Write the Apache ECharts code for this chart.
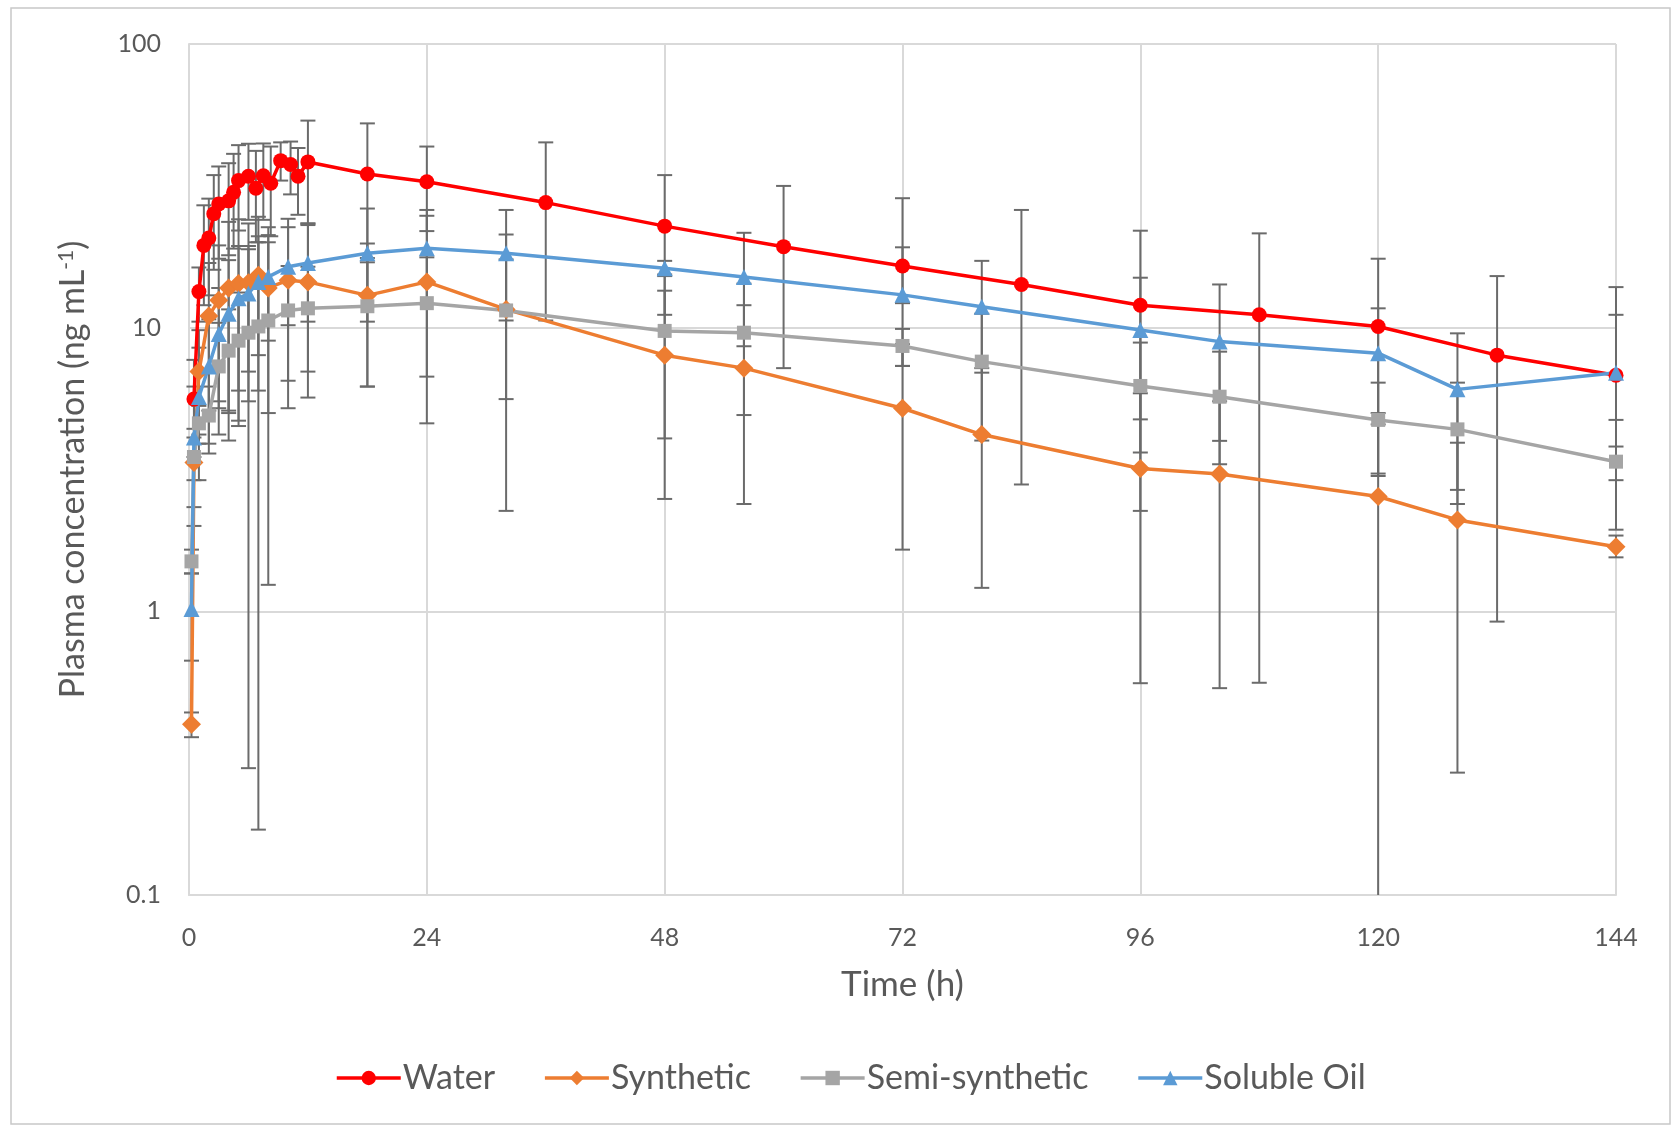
<!DOCTYPE html>
<html>
<head>
<meta charset="utf-8">
<script src="https://cdn.jsdelivr.net/npm/echarts@6/dist/echarts.min.js"></script>
<style>
  html, body { margin: 0; padding: 0; background: #fff; }
  #chart { width: 1673px; height: 1128px; }
</style>
</head>
<body>
<div id="chart"></div>
<script>
// time points (h)
var waterTime = [0.5, 1, 1.5, 2, 2.5, 3, 4, 4.5, 5, 6, 6.75, 7.5, 8.25, 9.25, 10.25, 11, 12, 18, 24, 36, 48, 60, 72, 84, 96, 108, 120, 132, 144];
var otherTime = [0.25, 0.5, 1, 2, 3, 4, 5, 6, 7, 8, 10, 12, 18, 24, 32, 48, 56, 72, 80, 96, 104, 120, 128, 144];

// mean concentration (ng/mL) and error bar ends
var waterMean = [5.6, 13.4, 19.5, 20.7, 25.2, 27.3, 28.0, 30.0, 33.0, 34.2, 31.0, 34.3, 32.3, 38.8, 37.6, 34.2, 38.4, 34.8, 32.7, 27.6, 22.8, 19.3, 16.5, 14.2, 12.0, 11.1, 10.1, 8.0, 6.8];
var waterLow  = [3.5, 10.5, 12, 13, 16, 17.5, 18, 19, 22, 24, 20, 24, 21, 33, 29.5, 25, 23, 17, 21.9, 10.6, 11.1, 7.2, 7.33, 2.8, 2.26, 0.56, 3.0, 0.92, 2.9];
var waterHigh = [7.7, 16.3, 27, 28.5, 34.5, 37, 38, 41, 44, 44.5, 42, 44.6, 43.5, 45, 45.3, 43, 53.7, 52.5, 43.5, 45, 34.5, 31.6, 28.6, 26.0, 21.97, 21.5, 17.5, 15.2, 11.1];

var synthMean = [0.40, 3.35, 7.0, 11.0, 12.5, 13.8, 14.3, 14.4, 15.3, 13.8, 14.7, 14.5, 13.0, 14.5, 11.6, 8.0, 7.2, 5.2, 4.2, 3.19, 3.05, 2.54, 2.10, 1.69];
var synthLow  = [0.36, 2.33, 4.2, 5.1, 5.5, 4.0, 4.5, 5.5, 6.0, 5.0, 5.2, 5.67, 6.2, 4.6, 2.26, 2.49, 2.39, 1.65, 1.21, 0.558, 0.536, 0, 0.27, 1.55];
var synthHigh = [0.44, 4.4, 9.8, 16.9, 19.5, 23.6, 24.1, 23.3, 24.6, 22.6, 24.2, 23.3, 19.8, 24.8, 21.3, 13.5, 12.0, 8.75, 7.2, 5.87, 5.5, 5.0, 3.93, 1.85];

var semiMean = [1.5, 3.5, 4.6, 4.9, 7.3, 8.3, 9.0, 9.6, 10.1, 10.6, 11.5, 11.7, 11.9, 12.2, 11.5, 9.74, 9.6, 8.62, 7.59, 6.23, 5.71, 4.73, 4.38, 3.37];
var semiLow  = [1.36, 2.9, 3.9, 3.6, 4.2, 5.0, 4.7, 0.28, 0.17, 1.24, 6.5, 7.0, 6.2, 6.72, 5.6, 4.07, 4.92, 7.33, 4.0, 3.63, 3.30, 3.06, 2.39, 1.94];
var semiHigh = [1.65, 4.1, 5.3, 6.2, 10.4, 11.6, 13.3, 18.9, 20.0, 20.0, 16.5, 16.4, 17.6, 17.7, 17.4, 15.4, 14.3, 9.9, 11.2, 8.86, 8.23, 6.4, 6.4, 4.73];

var oilMean = [1.02, 4.1, 5.7, 7.3, 9.5, 11.2, 12.7, 13.2, 14.5, 15.1, 16.4, 16.9, 18.3, 19.05, 18.3, 16.2, 15.1, 13.05, 11.86, 9.82, 8.93, 8.13, 6.06, 6.93];
var oilLow  = [0.67, 2.0, 2.9, 3.9, 5.2, 5.1, 6.0, 7.0, 8.0, 9.0, 10.2, 10.5, 10.5, 12.1, 10.6, 15.2, 8.6, 12.2, 6.94, 4.75, 3.99, 4.56, 2.68, 3.81];
var oilHigh = [1.36, 6.2, 8.5, 10.7, 13.8, 17.3, 19.4, 19.4, 21.0, 21.2, 22.6, 23.3, 26.3, 26.0, 26.0, 17.2, 21.6, 19.2, 17.2, 15.0, 14.2, 11.7, 9.55, 13.9];

var seriesNames = ['Water', 'Synthetic', 'Semi-synthetic', 'Soluble Oil'];
var xTicks = [0, 24, 48, 72, 96, 120, 144];
var yMin = 0.1, yMax = 100;

var FONT = 'Lato, "Open Sans", sans-serif';
var TXT = '#595959';

function pairs(t, v) {
  return t.map(function (x, i) { return [x, v[i]]; });
}
function bars(t, lo, hi) {
  return t.map(function (x, i) { return [x, lo[i], hi[i]]; });
}

// error bar: vertical line plus caps, clipped at the axis bottom
function renderErr(params, api) {
  var x = api.value(0), lo = api.value(1), hi = api.value(2);
  var clipped = lo < yMin;
  var top = api.coord([x, hi]);
  var bot = api.coord([x, clipped ? yMin : lo]);
  var half = 7.5;
  var st = { stroke: '#6b6b6b', lineWidth: 2 };
  var kids = [
    { type: 'line', shape: { x1: top[0], y1: top[1], x2: bot[0], y2: bot[1] }, style: st },
    { type: 'line', shape: { x1: top[0] - half, y1: top[1], x2: top[0] + half, y2: top[1] }, style: st }
  ];
  if (!clipped) {
    kids.push({ type: 'line', shape: { x1: bot[0] - half, y1: bot[1], x2: bot[0] + half, y2: bot[1] }, style: st });
  }
  return { type: 'group', children: kids };
}

function errSeries(data) {
  return {
    type: 'custom',
    renderItem: renderErr,
    data: data,
    encode: { x: 0, y: [1, 2] },
    z: 1,
    silent: true
  };
}

function lineSeries(name, data, color, symbol, size) {
  return {
    name: name,
    type: 'line',
    data: data,
    symbol: symbol,
    symbolSize: size,
    lineStyle: { color: color, width: 3.5 },
    itemStyle: { color: color },
    z: 3
  };
}

var chart = echarts.init(document.getElementById('chart'));
chart.setOption({
  animation: false,
  backgroundColor: '#fff',
  graphic: [{
    type: 'rect',
    shape: { x: 11, y: 8, width: 1659, height: 1116 },
    style: { fill: 'none', stroke: '#c8c8c8', lineWidth: 1.5 },
    silent: true
  }],
  grid: { left: 189, top: 44, right: 57, bottom: 233 },
  legend: {
    data: seriesNames,
    left: 330,
    top: 1056,
    itemWidth: 64,
    itemHeight: 18,
    itemGap: 48,
    lineStyle: { width: 3.5 },
    textStyle: { fontSize: 34, color: TXT, fontFamily: FONT, padding: [0, 0, 0, -3] }
  },
  xAxis: {
    type: 'value',
    min: 0,
    max: 144,
    interval: 24,
    name: 'Time (h)',
    nameLocation: 'middle',
    nameGap: 72,
    nameTextStyle: { fontSize: 35, color: TXT, fontFamily: FONT },
    axisLine: { lineStyle: { color: '#d9d9d9', width: 2 } },
    axisTick: { show: false },
    axisLabel: {
      fontSize: 25, color: TXT, fontFamily: FONT, margin: 30,
      formatter: function (v) { return xTicks.indexOf(v) >= 0 ? String(v) : ''; }
    },
    splitLine: { show: true, lineStyle: { color: '#d9d9d9', width: 2 } }
  },
  yAxis: {
    type: 'log',
    logBase: 10,
    min: yMin,
    max: yMax,
    name: '{a|Plasma concentration (ng mL}{s|-1}{a|)}',
    nameLocation: 'middle',
    nameGap: 98,
    nameRotate: 90,
    nameTextStyle: {
      rich: {
        a: { fontSize: 34, color: TXT, fontFamily: FONT },
        s: { fontSize: 21, color: TXT, fontFamily: FONT, verticalAlign: 'top', padding: [0, 0, 14, 0] }
      }
    },
    axisLine: { show: true, lineStyle: { color: '#d9d9d9', width: 2 } },
    axisTick: { show: false },
    axisLabel: { fontSize: 25, color: TXT, fontFamily: FONT, margin: 28 },
    splitLine: { show: true, lineStyle: { color: '#d9d9d9', width: 2 } },
    minorSplitLine: { show: false }
  },
  series: [
    errSeries(bars(waterTime, waterLow, waterHigh)),
    errSeries(bars(otherTime, synthLow, synthHigh)),
    errSeries(bars(otherTime, semiLow, semiHigh)),
    errSeries(bars(otherTime, oilLow, oilHigh)),
    lineSeries('Water', pairs(waterTime, waterMean), '#ff0000', 'circle', 15),
    lineSeries('Synthetic', pairs(otherTime, synthMean), '#ed7d31', 'diamond', 19),
    lineSeries('Semi-synthetic', pairs(otherTime, semiMean), '#a5a5a5', 'rect', 14),
    lineSeries('Soluble Oil', pairs(otherTime, oilMean), '#5b9bd5', 'triangle', 16)
  ]
});
</script>
</body>
</html>
